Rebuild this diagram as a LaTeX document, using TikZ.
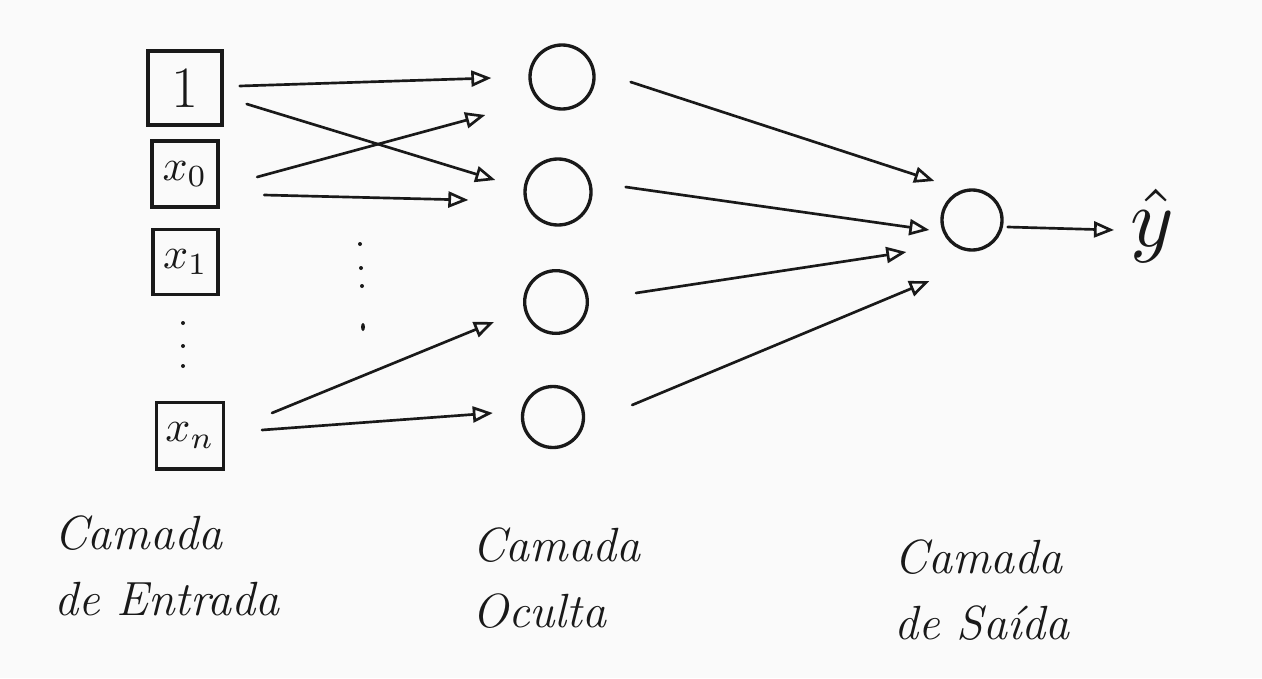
\documentclass[tikz,border=0pt]{standalone}
\usepackage{graphicx}
\usetikzlibrary{arrows.meta,calc,shapes.geometric}
\definecolor{bg}{RGB}{250,250,250}
\definecolor{ink}{RGB}{25,25,25}
\begin{document}
\begin{tikzpicture}[x=0.75pt,y=-0.75pt,
  inbox/.style={draw=ink,line width=2.5pt,minimum width=#1,minimum height=#1,inner sep=0pt,text=ink},
  neuron/.style={draw=ink,circle,line width=2.5pt,minimum size=#1,inner sep=0pt},
  arr/.style={draw=ink,line width=2pt,line cap=round,-{Triangle[open,length=15pt,width=12pt,line width=2pt]}},
  lbl/.style={align=left,text=ink,font=\fontsize{36}{49}\selectfont\itshape},
  dotmark/.style={fill=ink,circle,inner sep=0pt,minimum size=3pt}
]
\fill[bg] (0,0) rectangle (1262,678);
\useasboundingbox (0,0) rectangle (1262,678);

% input layer
\node[inbox=55.5pt] (in1) at (185,88) {\fontsize{44}{44}\selectfont 1};
\node[inbox=49.5pt] (in2) at (185,174) {\scalebox{3.3}{$x_0$}};
\node[inbox=48.75pt] (in3) at (185.5,262) {\scalebox{3.3}{$x_1$}};
\node[inbox=50pt] (in4) at (190,435.5) {\scalebox{3.3}{$x_n$}};
\node[dotmark] (d1) at (183,323) {};
\node[dotmark] (d2) at (183,346) {};
\node[dotmark] (d3) at (183,366) {};

% hidden layer
\node[neuron=48pt] (h1) at (562,77) {};
\node[neuron=49.5pt] (h2) at (558,192) {};
\node[neuron=47pt] (h3) at (556,302) {};
\node[neuron=45.75pt] (h4) at (553,417) {};
\node[dotmark] (e1) at (360,244) {};
\node[dotmark] (e2) at (361,268) {};
\node[dotmark] (e3) at (362,286) {};
\node[fill=ink,ellipse,inner sep=0pt,minimum width=3pt,minimum height=6pt] (e4) at (363,327) {};

% output layer
\node[neuron=45pt] (o) at (972,220) {};
\node[text=ink,inner sep=0pt] (yh) at (1152,226) {\scalebox{6.2}{$\hat{y}$}};

% input -> hidden
\draw[arr] ($(in1.east)+(16,-2)$) -- ($(h1.west)+(-37,1)$);
\draw[arr] ($(in1.east)+(23,16)$) -- ($(h2.west)+(-28,-12)$);
\draw[arr] ($(in2.east)+(37.5,3)$) -- ($(h1.west)+(-43,38)$);
\draw[arr] ($(in2.east)+(44.5,21)$) -- ($(h2.west)+(-55,8)$);
\draw[arr] ($(in4.east)+(47,-22.5)$) -- ($(h3.west)+(-29,20)$);
\draw[arr] ($(in4.east)+(37,-5.5)$) -- ($(h4.west)+(-28,-4)$);

% hidden -> output
\draw[arr] ($(h1.east)+(35,5)$) -- ($(o.west)+(-6,-39)$);
\draw[arr] ($(h2.east)+(33,-5)$) -- ($(o.west)+(-11,10)$);
\draw[arr] ($(h3.east)+(47,-9)$) -- ($(o.west)+(-34,32)$);
\draw[arr] ($(h4.east)+(47,-12)$) -- ($(o.west)+(-11,61)$);

% output -> y hat
\draw[arr] ($(o.east)+(4,7)$) -- ($(yh.west)+(-16,4)$);

% labels
\node[lbl] (l1) at (167,566) {Camada\\de Entrada};
\node[lbl] (l2) at (556,578) {Camada\\Oculta};
\node[lbl] (l3) at (982,590) {Camada\\de Saída};
\end{tikzpicture}
\end{document}
